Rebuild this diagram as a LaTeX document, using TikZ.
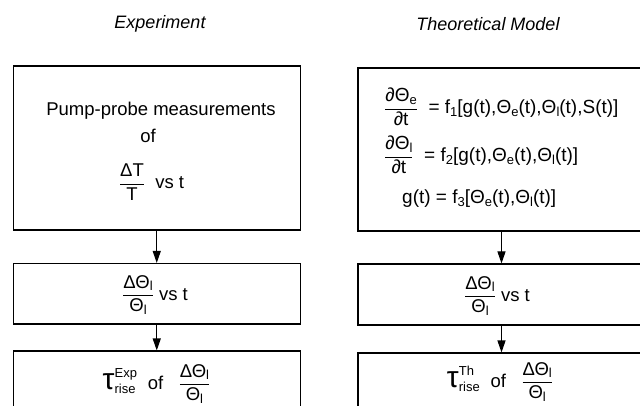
\documentclass[tikz,border=0pt]{standalone}
\usepackage{amsmath}
\usepackage{fontspec}
\setmainfont{Liberation Sans}
\usetikzlibrary{arrows.meta}
\newcommand\sub[1]{\raisebox{-2.5pt}{\fontsize{13}{13}\selectfont #1}}
\newcommand\ThE{Θ\sub{e}}
\newcommand\ThL{Θ\sub{l}}
\newcommand\relfrac{$\dfrac{\text{Δ\ThL}}{\text{\ThL}}$}
\newcommand\taurise[1]{$\text{\fontsize{30}{30}\selectfont τ}^{\text{\fontsize{13}{13}\selectfont #1}}_{\text{\fontsize{13}{13}\selectfont rise}}$}
\begin{document}
\begin{tikzpicture}[x=1pt,y=-1pt,font=\fontsize{18.5}{22}\selectfont,
      box/.style={draw,line width=1.1pt,minimum width=287pt,inner sep=0pt},
      txt/.style={inner sep=0pt},
      eq/.style={txt,anchor=west,font=\fontsize{19}{22}\selectfont},
      arr/.style={-{Triangle[length=12pt,width=8pt]},line width=1.1pt}]
  \useasboundingbox (0,0) rectangle (640,406);
  \clip (0,0) rectangle (640,406);
  \node[txt,font=\fontsize{18}{22}\selectfont\itshape] (hexp) at (160,24) {Experiment};
  \node[txt,font=\fontsize{18}{22}\selectfont\itshape] (hth) at (488,24) {Theoretical Model};
  \node[box,minimum height=164pt] (e1) at (156.75,148) {};
  \node[box,minimum height=60.5pt] (e2) at (156.75,293.75) {};
  \node[box,minimum height=100pt] (e3) at (156.75,401) {};
  \node[box,minimum height=163pt] (t1) at (501.5,149.5) {};
  \node[box,minimum height=61pt] (t2) at (501.5,294.5) {};
  \node[box,minimum height=100pt] (t3) at (501.5,403) {};
  \node[txt] (pump) at (161,111) {Pump-probe measurements};
  \node[txt] (of) at (148,136) {of};
  \node[txt] (dtt) at (151.5,182) {$\dfrac{\text{ΔT}}{\text{T}}$ \ vs t};
  \node[txt] (e2t) at (155,295) {\relfrac\ vs t};
  \node[txt] (e3t) at (156.5,384) {\taurise{Exp} \ of \ \ \relfrac};
  \node[eq] (eq1) at (384,107) {$\dfrac{\text{∂\ThE}}{\text{∂t}}$ \ = f\sub{1}[g(t),\ThE(t),\ThL(t),S(t)]};
  \node[eq] (eq2) at (384,155) {$\dfrac{\text{∂\ThL}}{\text{∂t}}$ \ = f\sub{2}[g(t),\ThE(t),\ThL(t)]};
  \node[eq] (eq3) at (402,199) {g(t) = f\sub{3}[\ThE(t),\ThL(t)]};
  \node[txt] (t2t) at (497,296) {\relfrac\ vs t};
  \node[txt] (t3t) at (500,382) {\taurise{Th} \ of \ \ \relfrac};
  \draw[arr] (e1) -- (e2);
  \draw[arr] (e2) -- (e3);
  \draw[arr] (t1) -- (t2);
  \draw[arr] (t2) -- (t3);
\end{tikzpicture}
\end{document}
